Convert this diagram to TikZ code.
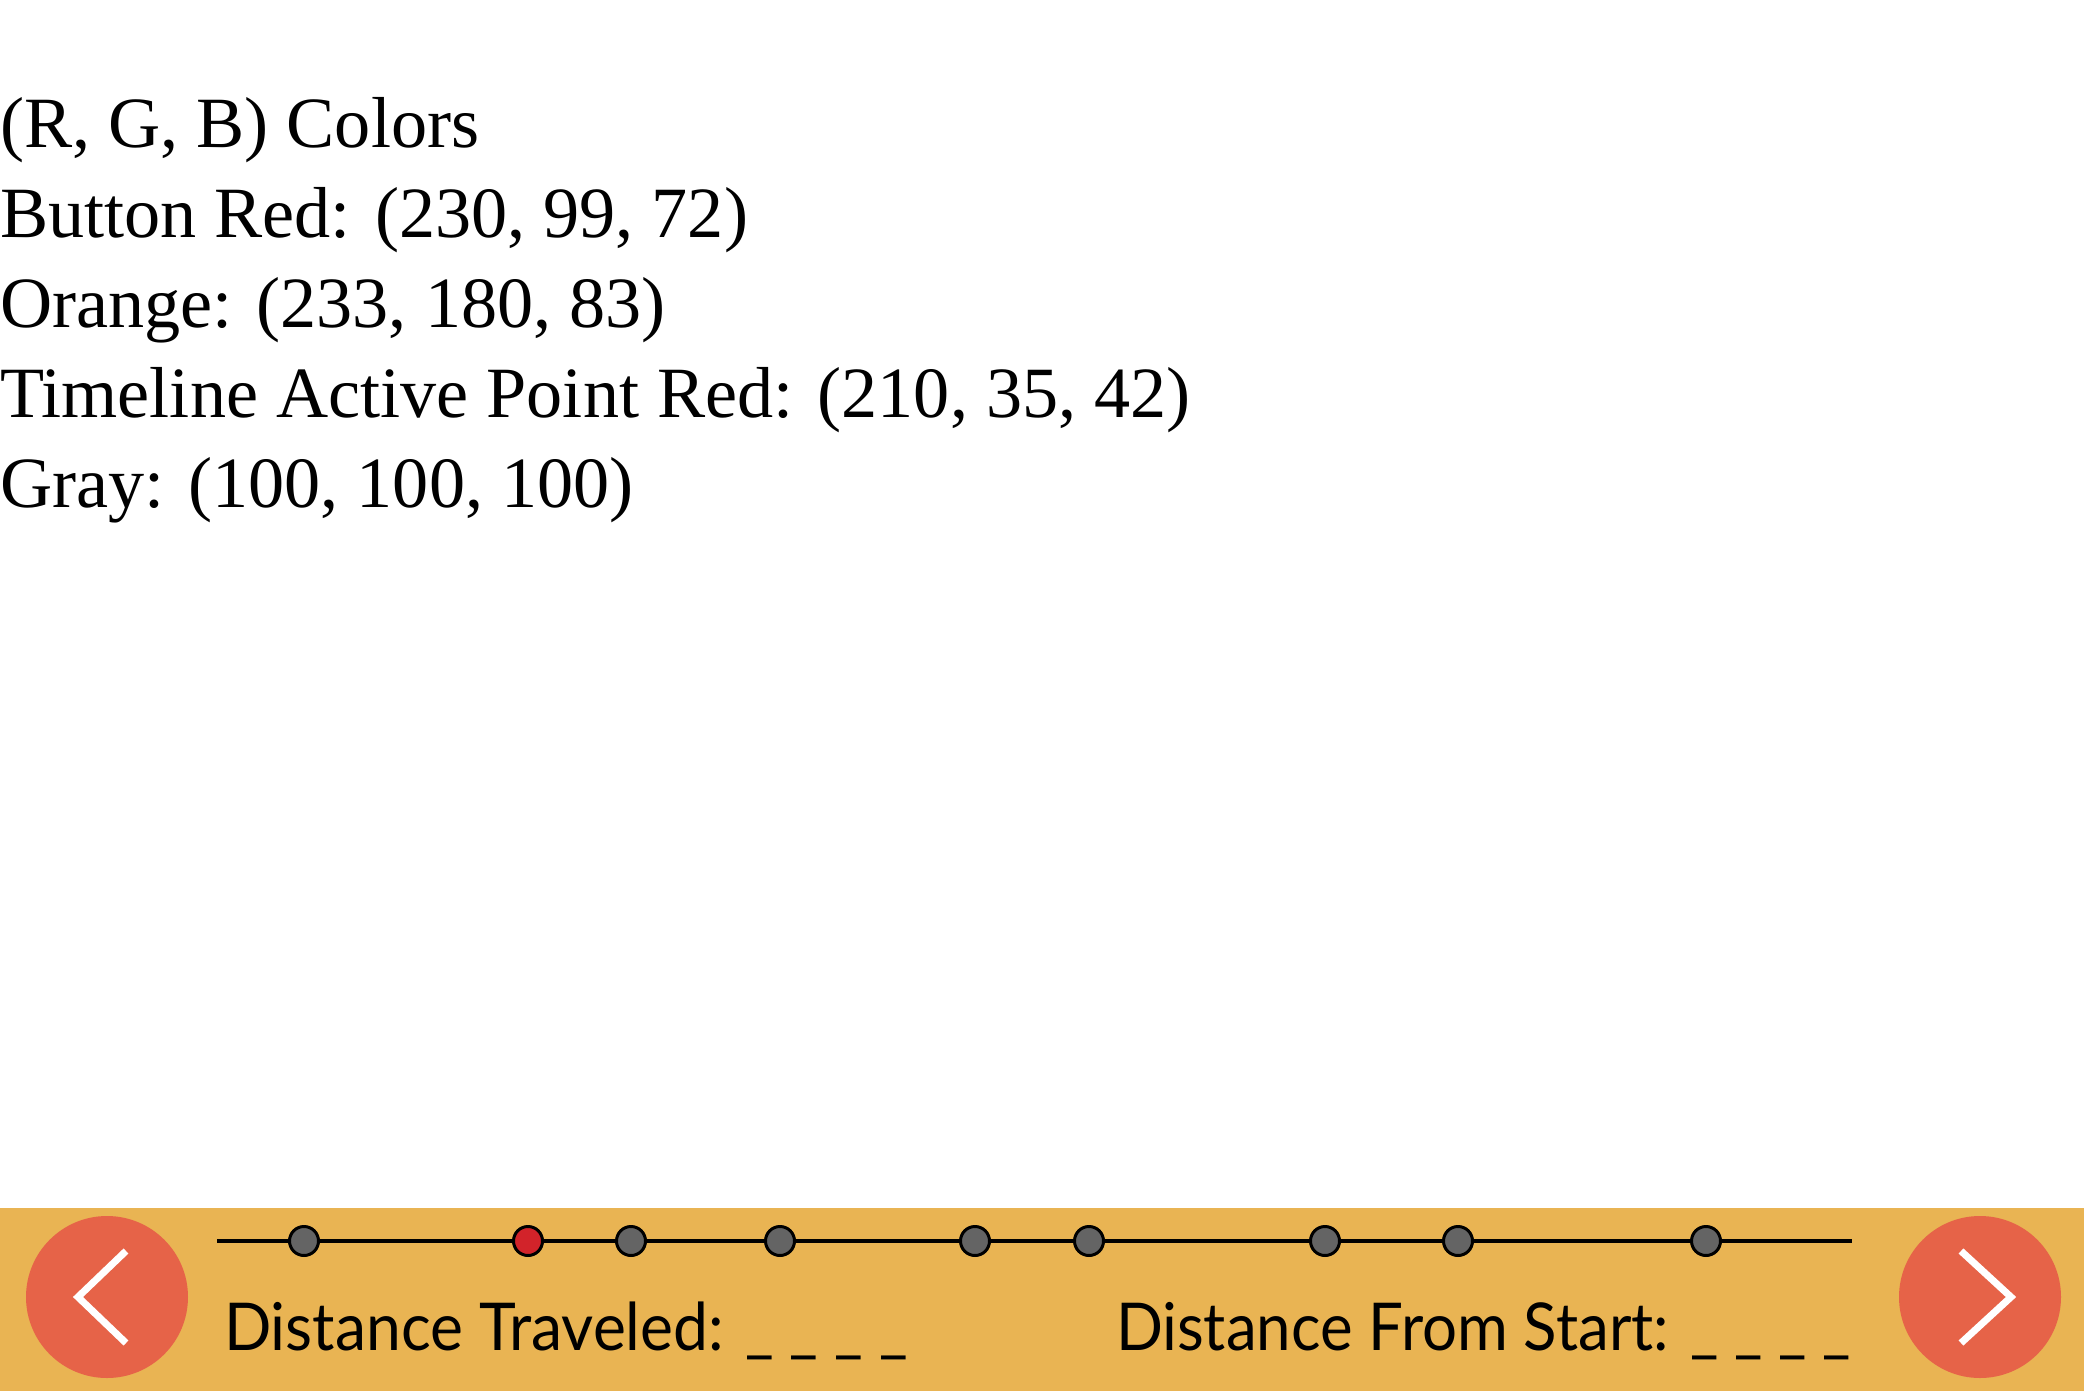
\documentclass[tikz,border=0pt]{standalone}
\usepackage{fontspec}
\setmainfont{Liberation Serif}
\newfontfamily\uifont{Lato}
\definecolor{barorange}{RGB}{233,180,83}
\definecolor{buttonred}{RGB}{230,99,72}
\definecolor{activered}{RGB}{210,35,42}
\definecolor{dotgray}{RGB}{100,100,100}
\tikzset{
  colortext/.style={anchor=base west, inner sep=0pt, outer sep=0pt, font=\fontsize{36.1pt}{40pt}\selectfont},
  uitext/.style={anchor=base west, inner sep=0pt, outer sep=0pt, font=\uifont\fontsize{33pt}{36pt}\selectfont},
  tdot/.style={circle, draw=black, line width=1.5pt, fill=dotgray, minimum size=14.5pt, inner sep=0pt},
  activedot/.style={tdot, fill=activered},
  navbutton/.style={circle, fill=buttonred, minimum size=81pt, inner sep=0pt},
  chevron/.style={draw=white, line width=3.5pt},
  timeline/.style={draw=black, line width=2pt},
}
\begin{document}
\begin{tikzpicture}[x=0.5pt,y=-0.5pt]
\useasboundingbox (0,0) rectangle (2084,1392);
\fill[white] (0,0) rectangle (2084,1392);
% colour list
\node[colortext] (t1) at (0,147) {(R, G, B) Colors};
\node[colortext] (t2) at (0,237) {Button Red: (230, 99, 72)};
\node[colortext] (t3) at (0,327) {Orange: (233, 180, 83)};
\node[colortext] (t4) at (0,417) {Timeline Active Point Red: (210, 35, 42)};
\node[colortext] (t5) at (0,507) {Gray: (100, 100, 100)};
% bottom bar
\fill[barorange] (0,1208) rectangle (2084,1391);
% timeline
\coordinate (tl) at (217,1241);
\coordinate (tr) at (1852,1241);
\draw[timeline] (tl) -- (tr);
\node[tdot] (d1) at (304,1241) {};
\node[activedot] (d2) at (528,1241) {};
\node[tdot] (d3) at (631,1241) {};
\node[tdot] (d4) at (780,1241) {};
\node[tdot] (d5) at (975,1241) {};
\node[tdot] (d6) at (1089,1241) {};
\node[tdot] (d7) at (1325,1241) {};
\node[tdot] (d8) at (1458,1241) {};
\node[tdot] (d9) at (1706,1241) {};
% buttons
\node[navbutton] (lb) at (107,1297) {};
\node[navbutton] (rb) at (1980,1297) {};
\draw[chevron] ([shift={(19,-46)}]lb.center) -- ([shift={(-29,0)}]lb.center) -- ([shift={(19,46)}]lb.center);
\draw[chevron] ([shift={(-19,-46)}]rb.center) -- ([shift={(31,0)}]rb.center) -- ([shift={(-19,46)}]rb.center);
% labels
\node[uitext] (dt) at (224,1350) {\scalebox{0.945}[1]{Distance Traveled: \_ \_ \_ \_}};
\node[uitext] (ds) at (1116,1350) {\scalebox{0.936}[1]{Distance From Start: \_ \_ \_ \_}};
\end{tikzpicture}
\end{document}
